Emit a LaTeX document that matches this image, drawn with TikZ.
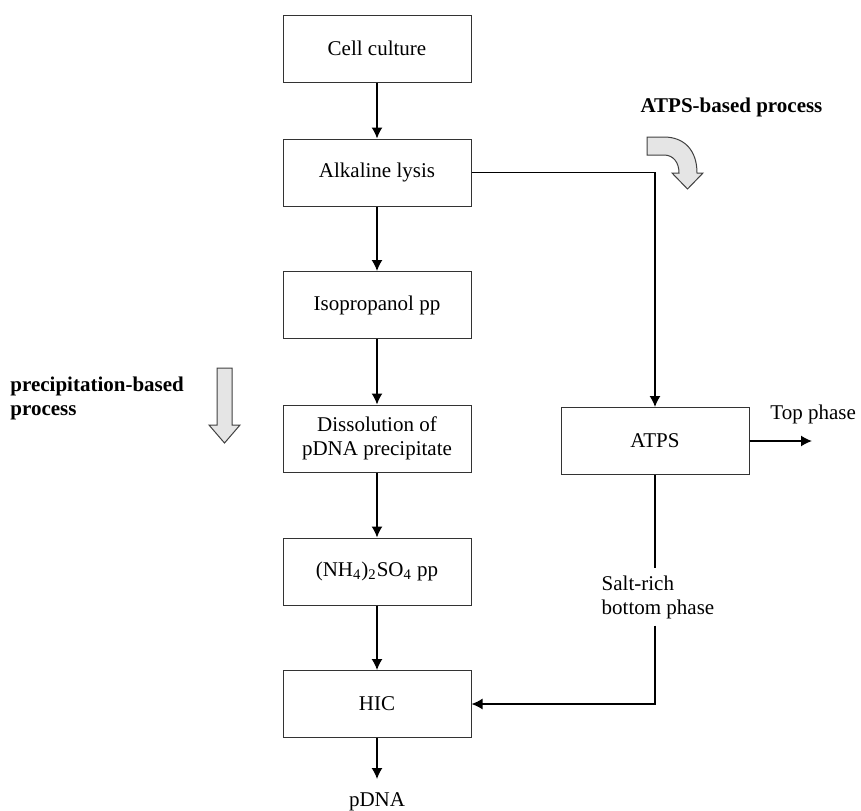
\documentclass[tikz,border=0pt]{standalone}
\usepackage{fontspec}
\setmainfont{Liberation Serif}
\usetikzlibrary{arrows.meta,calc}

\tikzset{
  procbox/.style={draw=black!80, line width=0.5pt, minimum width=94pt, minimum height=33.5pt, align=center, inner sep=2pt},
  flow/.style={line width=0.75pt, -{Latex[length=5.5pt,width=5.5pt]}},
  plainline/.style={line width=0.75pt},
  blockarrow/.style={draw=black!75, line width=0.5pt, fill=black!10},
  boldlabel/.style={font=\fontsize{10.5}{12}\selectfont\bfseries, align=left},
}

\begin{document}
\begin{tikzpicture}[x=0.5pt,y=-0.5pt,font=\fontsize{10.5}{12}\selectfont]
    \useasboundingbox (0,0) rectangle (861,810);

    %Process boxes, main column
    \node[procbox] (cell) at (377,48.5) {Cell culture};
    \node[procbox] (alk) at (377,172.5) {Alkaline lysis};
    \node[procbox] (iso) at (377,305) {Isopropanol pp};
    \node[procbox] (diss) at (377,438.5) {Dissolution of\\pDNA precipitate};
    \node[procbox] (nh4) at (377,571.5) {(NH\textsubscript{4})\textsubscript{2}SO\textsubscript{4} pp};
    \node[procbox] (hic) at (377,704) {HIC};
    %Process box, side branch
    \node[procbox] (atps) at (655,441) {ATPS};

    %Text labels
    \node[anchor=base west, inner sep=0pt] (top) at (770,419) {Top phase};
    \node[align=left] (salt) at (658,597) {Salt-rich\\bottom phase};
    \node[inner sep=0pt, anchor=north] (pdna) at (377,792) {pDNA};
    \node[boldlabel, anchor=north west, inner sep=0pt] (precip) at (10,377) {precipitation-based\\process};
    \node[boldlabel, anchor=base] (atpslabel) at (731.5,112) {ATPS-based process};
    \coordinate (topend) at (812,441);

    %Connectors
    \draw[flow] (cell) -- (alk);
    \draw[flow] (alk) -- (iso);
    \draw[flow] (iso) -- (diss);
    \draw[flow] (diss) -- (nh4);
    \draw[flow] (nh4) -- (hic);
    \draw[flow, shorten >=6.5pt] (hic) -- (pdna);
    \draw[flow] (alk.east) -| (atps.north);
    \draw[flow] (atps) -- (topend);
    \draw[plainline] (atps.south) -- (atps.south |- salt.north);
    \draw[flow] (atps.south |- salt.south) |- (hic.east);

    %Block arrow, down
    \draw[blockarrow] (217,368) -- (232,368) -- (232,425) -- (240,425) -- (224.5,443) -- (209,425) -- (217,425) -- cycle;
    %Block arrow, curved
    \draw[blockarrow] (647,137) -- (664,137) .. controls (684,137) and (697,150) .. (697,173) -- (703,173) -- (687.5,189) -- (672,173) -- (679,173) .. controls (679,162) and (673,155) .. (664,155) -- (647,155) -- cycle;

\end{tikzpicture}
\end{document}
